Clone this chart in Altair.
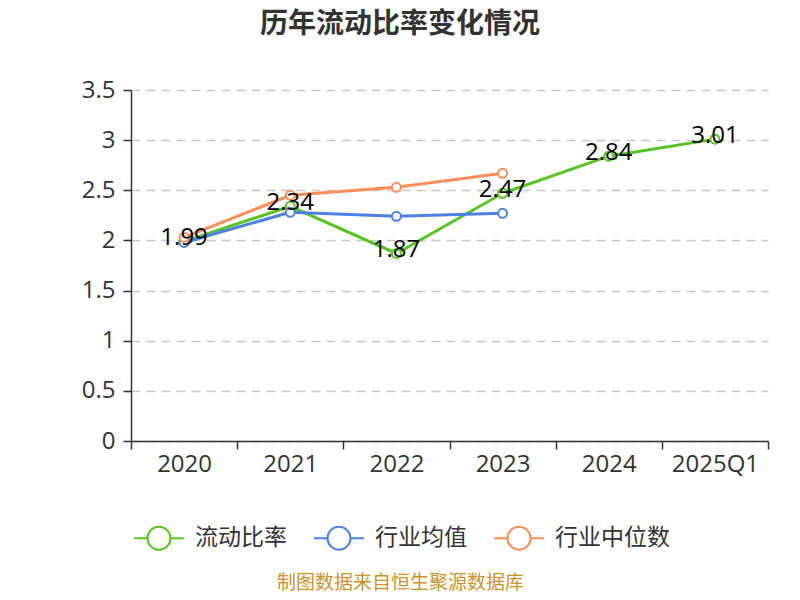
import altair as alt
import pandas as pd

years = ["2020", "2021", "2022", "2023", "2024", "2025Q1"]
ratio = [1.99, 2.34, 1.87, 2.47, 2.84, 3.01]
industry_avg = [1.98, 2.28, 2.24, 2.27, None, None]
industry_median = [2.03, 2.45, 2.53, 2.67, None, None]
series_names = ["流动比率", "行业均值", "行业中位数"]
series_colors = ["#58C322", "#4D80E1", "#FF8D57"]
y_ticks = [0, 0.5, 1, 1.5, 2, 2.5, 3, 3.5]

rows = []
for name, vals in zip(series_names, [ratio, industry_avg, industry_median]):
    for i, (yr, v) in enumerate(zip(years, vals)):
        if v is not None:
            rows.append({"year": yr, "value": v, "series": name,
                         "order": series_names.index(name)})
df = pd.DataFrame(rows)

FONT = "Noto Sans CJK SC"
NUM_FONT = "Open Sans"

color_scale = alt.Scale(domain=series_names, range=series_colors)
x_enc = alt.X(
    "year:N", sort=years,
    scale=alt.Scale(type="band", paddingInner=0, paddingOuter=0),
    axis=alt.Axis(
        title="制图数据来自恒生聚源数据库", titleColor="#C9922B", titleFontSize=19,
        titleFontWeight="normal", titleFont=FONT, titleX=269, titleY=141,
        titleBaseline="middle", titleAlign="center", titleAnchor="start",
        labelFontSize=24, labelColor="#333333", labelFont=NUM_FONT, labelPadding=3,
        tickBand="extent", tickSize=8, tickColor="#333333", tickWidth=1.5,
        domainColor="#333333", domainWidth=1.5, labelAngle=0, grid=False,
    ),
)
y_enc = alt.Y(
    "value:Q",
    scale=alt.Scale(domain=[0, 3.5], nice=False),
    axis=alt.Axis(
        title=None, values=y_ticks, format="~g", labelFontSize=24,
        labelColor="#333333", labelFont=NUM_FONT, labelPadding=8,
        tickSize=8, tickColor="#333333", tickWidth=1.5,
        domainColor="#333333", domainWidth=1.5,
        grid=True, gridColor="#C8C8C8", gridDash=[9, 6], gridWidth=1.5,
    ),
)

legend_path = ("M-1,0L-0.46,0M0.46,0L1,0M-0.46,0A0.46,0.46,0,1,1,0.46,0"
               "A0.46,0.46,0,1,1,-0.46,0")

base = alt.Chart(df)

lines = base.mark_line(strokeWidth=3).encode(
    x=x_enc, y=y_enc,
    color=alt.Color(
        "series:N", scale=color_scale, sort=series_names,
        legend=alt.Legend(
            title=None, orient="none", direction="horizontal",
            legendX=2, legendY=422, symbolType=legend_path, symbolSize=2500,
            symbolStrokeWidth=2, symbolFillColor="white",
            labelFontSize=23, labelFont=FONT, labelColor="#333333",
            labelOffset=10, columnPadding=23, padding=0,
        ),
    ),
    order=alt.Order("order:Q"),
    detail="series:N",
)

points = base.mark_point(shape="circle", size=81, strokeWidth=2, fill="white",
                         filled=False, opacity=1, fillOpacity=1).encode(
    x=x_enc, y=y_enc,
    stroke=alt.Stroke("series:N", scale=color_scale, legend=None),
)

labels = base.transform_filter(alt.datum.series == "流动比率").mark_text(
    fontSize=24, font=NUM_FONT, color="#000000", baseline="middle", dy=-3
).encode(
    x=x_enc, y=y_enc,
    text=alt.Text("value:Q", format=".2f"),
)

chart = alt.layer(lines, points, labels).properties(
    width=637, height=351,
    title=alt.TitleParams(
        "历年流动比率变化情况", fontSize=28, fontWeight="bold", color="#333333",
        font=FONT, anchor="middle", frame="group", dx=-49.5, offset=39,
    ),
    autosize=alt.AutoSizeParams(type="none"),
    padding={"left": 123, "top": 82, "right": 24, "bottom": 151},
).configure(background="white").configure_view(stroke=None)

chart.save("out.html", embed_options={"renderer": "svg", "actions": False})
